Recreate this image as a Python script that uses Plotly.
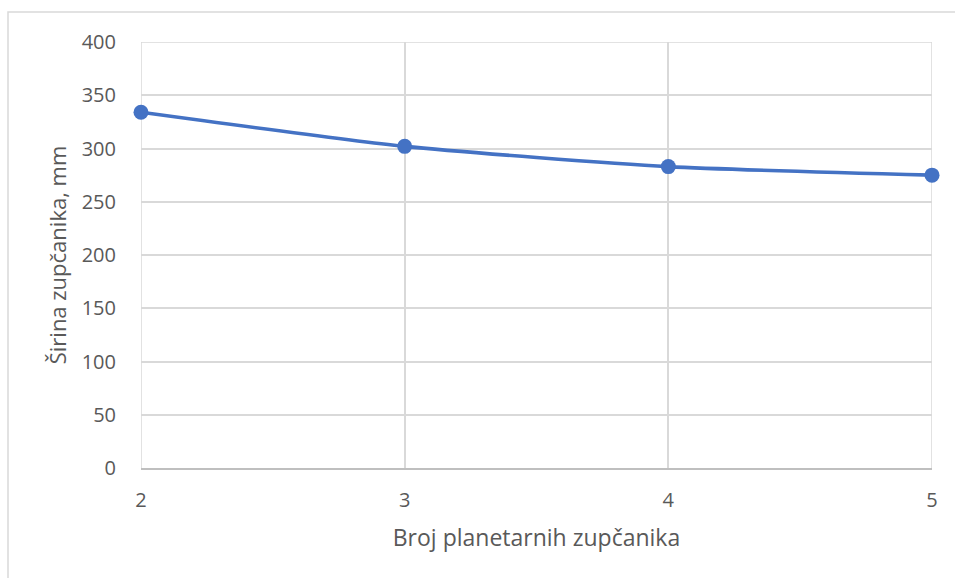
import plotly.graph_objects as go

# Number of planetary gears vs. gear width
planet_count = [2, 3, 4, 5]
gear_width_mm = [334, 302, 283, 275]

x_ticks = [2, 3, 4, 5]
y_ticks = [0, 50, 100, 150, 200, 250, 300, 350, 400]

x_title = "Broj planetarnih zupčanika"
y_title = "Širina zupčanika, mm"

line_color = "#4472C4"
grid_color = "#D9D9D9"
text_color = "#595959"
font_family = "Open Sans, Liberation Sans, sans-serif"

fig = go.Figure(
    go.Scatter(
        x=planet_count,
        y=gear_width_mm,
        mode="lines+markers",
        line=dict(color=line_color, width=3.6, shape="spline", smoothing=0.6),
        marker=dict(color=line_color, size=15),
        cliponaxis=False,
        showlegend=False,
    )
)

grid_edge = dict(color=grid_color, width=1.5)

fig.update_layout(
    width=955,
    height=578,
    margin=dict(l=141, r=23, t=42, b=110),
    paper_bgcolor="white",
    plot_bgcolor="white",
    font=dict(family=font_family, color=text_color, size=20),
    xaxis=dict(
        range=[2, 5],
        tickvals=x_ticks,
        showgrid=True,
        gridcolor=grid_color,
        gridwidth=1.5,
        zeroline=False,
        showline=True,
        linecolor="#BFBFBF",
        linewidth=1.5,
        ticks="outside",
        ticklen=13,
        tickcolor="rgba(0,0,0,0)",
        tickfont=dict(size=20, color=text_color),
        title=dict(text=x_title, font=dict(size=23, color=text_color), standoff=18),
    ),
    yaxis=dict(
        range=[0, 400],
        tickvals=y_ticks,
        showgrid=True,
        gridcolor=grid_color,
        gridwidth=1.5,
        zeroline=False,
        ticks="outside",
        ticklen=20,
        tickcolor="rgba(0,0,0,0)",
        tickfont=dict(size=20, color=text_color),
        title=dict(text=y_title, font=dict(size=22, color=text_color), standoff=8),
    ),
    shapes=[
        # chart-area frame (left and top edges visible inside the page)
        dict(
            type="rect",
            xref="paper",
            yref="paper",
            x0=(8 - 141) / 791,
            x1=(958 - 141) / 791,
            y0=-(582 - 468) / 426,
            y1=1 + (42 - 12) / 426,
            line=dict(color="#D9D9D9", width=1.5),
            layer="below",
        ),
        # gridlines on the plot edges
        dict(type="line", xref="x", yref="paper", x0=2, x1=2, y0=0, y1=1,
             line=grid_edge, layer="below"),
        dict(type="line", xref="x", yref="paper", x0=5, x1=5, y0=0, y1=1,
             line=grid_edge, layer="below"),
        dict(type="line", xref="paper", yref="y", x0=0, x1=1, y0=400, y1=400,
             line=grid_edge, layer="below"),
    ],
)

fig.write_html("out.html")
